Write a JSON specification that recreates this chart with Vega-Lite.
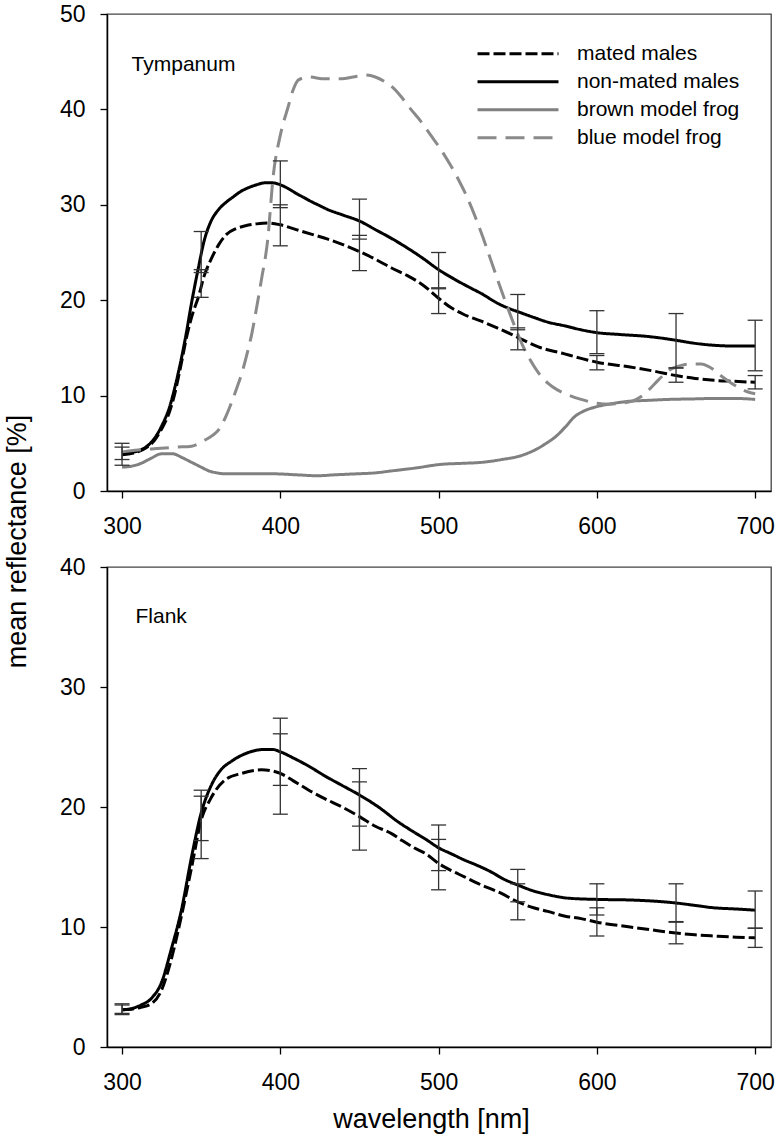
{
  "$schema": "https://vega.github.io/schema/vega-lite/v6.json",
  "padding": {"left": 2, "top": 2, "right": 5, "bottom": 5},
  "config": {
    "font": "Liberation Sans",
    "view": {"stroke": "#444", "strokeWidth": 1.3},
    "axis": {"domainColor": "#000", "domainWidth": 1.5, "tickColor": "#000", "tickWidth": 1.3, "tickSize": 7, "labelFontSize": 23, "labelColor": "#000", "labelFont": "Liberation Sans", "titleFont": "Liberation Sans", "titleFontSize": 27, "titleFontWeight": "normal", "titleColor": "#000", "grid": false, "labelFlush": false},
    "axisX": {"labelPadding": 17},
    "axisY": {"labelPadding": 15},
    "text": {"font": "Liberation Sans"}
  },
  "datasets": {
    "curves": [
      {"panel":"T","series":"non-mated males","wl":300,"r":3.9},
      {"panel":"T","series":"non-mated males","wl":305,"r":4.0},
      {"panel":"T","series":"non-mated males","wl":310,"r":4.2},
      {"panel":"T","series":"non-mated males","wl":315,"r":4.6},
      {"panel":"T","series":"non-mated males","wl":320,"r":5.4},
      {"panel":"T","series":"non-mated males","wl":325,"r":6.8},
      {"panel":"T","series":"non-mated males","wl":330,"r":8.8},
      {"panel":"T","series":"non-mated males","wl":335,"r":12.0},
      {"panel":"T","series":"non-mated males","wl":340,"r":16.0},
      {"panel":"T","series":"non-mated males","wl":344,"r":19.8},
      {"panel":"T","series":"non-mated males","wl":348,"r":23.2},
      {"panel":"T","series":"non-mated males","wl":352,"r":26.3},
      {"panel":"T","series":"non-mated males","wl":356,"r":28.2},
      {"panel":"T","series":"non-mated males","wl":361,"r":29.5},
      {"panel":"T","series":"non-mated males","wl":366,"r":30.3},
      {"panel":"T","series":"non-mated males","wl":370,"r":30.8},
      {"panel":"T","series":"non-mated males","wl":375,"r":31.4},
      {"panel":"T","series":"non-mated males","wl":380,"r":31.8},
      {"panel":"T","series":"non-mated males","wl":385,"r":32.1},
      {"panel":"T","series":"non-mated males","wl":390,"r":32.3},
      {"panel":"T","series":"non-mated males","wl":395,"r":32.3},
      {"panel":"T","series":"non-mated males","wl":400,"r":32.1},
      {"panel":"T","series":"non-mated males","wl":405,"r":31.7},
      {"panel":"T","series":"non-mated males","wl":410,"r":31.2},
      {"panel":"T","series":"non-mated males","wl":415,"r":30.75},
      {"panel":"T","series":"non-mated males","wl":420,"r":30.3},
      {"panel":"T","series":"non-mated males","wl":425,"r":29.9},
      {"panel":"T","series":"non-mated males","wl":430,"r":29.5},
      {"panel":"T","series":"non-mated males","wl":440,"r":28.9},
      {"panel":"T","series":"non-mated males","wl":450,"r":28.3},
      {"panel":"T","series":"non-mated males","wl":460,"r":27.4},
      {"panel":"T","series":"non-mated males","wl":470,"r":26.5},
      {"panel":"T","series":"non-mated males","wl":480,"r":25.5},
      {"panel":"T","series":"non-mated males","wl":490,"r":24.4},
      {"panel":"T","series":"non-mated males","wl":500,"r":23.2},
      {"panel":"T","series":"non-mated males","wl":510,"r":22.2},
      {"panel":"T","series":"non-mated males","wl":520,"r":21.3},
      {"panel":"T","series":"non-mated males","wl":527,"r":20.7},
      {"panel":"T","series":"non-mated males","wl":537,"r":19.7},
      {"panel":"T","series":"non-mated males","wl":545,"r":19.1},
      {"panel":"T","series":"non-mated males","wl":550,"r":18.8},
      {"panel":"T","series":"non-mated males","wl":560,"r":18.2},
      {"panel":"T","series":"non-mated males","wl":569,"r":17.7},
      {"panel":"T","series":"non-mated males","wl":580,"r":17.3},
      {"panel":"T","series":"non-mated males","wl":590,"r":16.9},
      {"panel":"T","series":"non-mated males","wl":600,"r":16.6},
      {"panel":"T","series":"non-mated males","wl":615,"r":16.4},
      {"panel":"T","series":"non-mated males","wl":632,"r":16.2},
      {"panel":"T","series":"non-mated males","wl":642,"r":16.0},
      {"panel":"T","series":"non-mated males","wl":650,"r":15.8},
      {"panel":"T","series":"non-mated males","wl":661,"r":15.5},
      {"panel":"T","series":"non-mated males","wl":672,"r":15.3},
      {"panel":"T","series":"non-mated males","wl":685,"r":15.2},
      {"panel":"T","series":"non-mated males","wl":700,"r":15.2},

      {"panel":"T","series":"mated males","wl":300,"r":3.8},
      {"panel":"T","series":"mated males","wl":305,"r":3.9},
      {"panel":"T","series":"mated males","wl":310,"r":4.1},
      {"panel":"T","series":"mated males","wl":315,"r":4.5},
      {"panel":"T","series":"mated males","wl":320,"r":5.2},
      {"panel":"T","series":"mated males","wl":325,"r":6.5},
      {"panel":"T","series":"mated males","wl":330,"r":8.3},
      {"panel":"T","series":"mated males","wl":333,"r":10.0},
      {"panel":"T","series":"mated males","wl":337,"r":13.0},
      {"panel":"T","series":"mated males","wl":341,"r":16.3},
      {"panel":"T","series":"mated males","wl":345,"r":18.8},
      {"panel":"T","series":"mated males","wl":348,"r":20.2},
      {"panel":"T","series":"mated males","wl":352,"r":22.6},
      {"panel":"T","series":"mated males","wl":356,"r":24.2},
      {"panel":"T","series":"mated males","wl":361,"r":25.8},
      {"panel":"T","series":"mated males","wl":366,"r":26.9},
      {"panel":"T","series":"mated males","wl":372,"r":27.5},
      {"panel":"T","series":"mated males","wl":378,"r":27.8},
      {"panel":"T","series":"mated males","wl":385,"r":28.0},
      {"panel":"T","series":"mated males","wl":392,"r":28.1},
      {"panel":"T","series":"mated males","wl":400,"r":27.9},
      {"panel":"T","series":"mated males","wl":410,"r":27.4},
      {"panel":"T","series":"mated males","wl":420,"r":26.9},
      {"panel":"T","series":"mated males","wl":430,"r":26.4},
      {"panel":"T","series":"mated males","wl":440,"r":25.8},
      {"panel":"T","series":"mated males","wl":450,"r":25.1},
      {"panel":"T","series":"mated males","wl":460,"r":24.3},
      {"panel":"T","series":"mated males","wl":470,"r":23.4},
      {"panel":"T","series":"mated males","wl":480,"r":22.6},
      {"panel":"T","series":"mated males","wl":490,"r":21.6},
      {"panel":"T","series":"mated males","wl":500,"r":20.2},
      {"panel":"T","series":"mated males","wl":508,"r":19.2},
      {"panel":"T","series":"mated males","wl":516,"r":18.5},
      {"panel":"T","series":"mated males","wl":527,"r":17.8},
      {"panel":"T","series":"mated males","wl":537,"r":17.1},
      {"panel":"T","series":"mated males","wl":545,"r":16.5},
      {"panel":"T","series":"mated males","wl":550,"r":16.1},
      {"panel":"T","series":"mated males","wl":563,"r":15.1},
      {"panel":"T","series":"mated males","wl":579,"r":14.4},
      {"panel":"T","series":"mated males","wl":590,"r":13.9},
      {"panel":"T","series":"mated males","wl":600,"r":13.5},
      {"panel":"T","series":"mated males","wl":621,"r":13.0},
      {"panel":"T","series":"mated males","wl":635,"r":12.6},
      {"panel":"T","series":"mated males","wl":650,"r":12.1},
      {"panel":"T","series":"mated males","wl":662,"r":11.8},
      {"panel":"T","series":"mated males","wl":674,"r":11.6},
      {"panel":"T","series":"mated males","wl":686,"r":11.5},
      {"panel":"T","series":"mated males","wl":700,"r":11.4},

      {"panel":"T","series":"brown model frog","wl":300,"r":2.5},
      {"panel":"T","series":"brown model frog","wl":306,"r":2.6},
      {"panel":"T","series":"brown model frog","wl":312,"r":2.9},
      {"panel":"T","series":"brown model frog","wl":318,"r":3.4},
      {"panel":"T","series":"brown model frog","wl":325,"r":3.9},
      {"panel":"T","series":"brown model frog","wl":332,"r":3.9},
      {"panel":"T","series":"brown model frog","wl":338,"r":3.5},
      {"panel":"T","series":"brown model frog","wl":344,"r":3.0},
      {"panel":"T","series":"brown model frog","wl":350,"r":2.5},
      {"panel":"T","series":"brown model frog","wl":355,"r":2.1},
      {"panel":"T","series":"brown model frog","wl":360,"r":1.9},
      {"panel":"T","series":"brown model frog","wl":365,"r":1.8},
      {"panel":"T","series":"brown model frog","wl":380,"r":1.8},
      {"panel":"T","series":"brown model frog","wl":396,"r":1.8},
      {"panel":"T","series":"brown model frog","wl":410,"r":1.7},
      {"panel":"T","series":"brown model frog","wl":423,"r":1.6},
      {"panel":"T","series":"brown model frog","wl":435,"r":1.7},
      {"panel":"T","series":"brown model frog","wl":448,"r":1.8},
      {"panel":"T","series":"brown model frog","wl":460,"r":1.9},
      {"panel":"T","series":"brown model frog","wl":470,"r":2.1},
      {"panel":"T","series":"brown model frog","wl":485,"r":2.4},
      {"panel":"T","series":"brown model frog","wl":502,"r":2.8},
      {"panel":"T","series":"brown model frog","wl":515,"r":2.9},
      {"panel":"T","series":"brown model frog","wl":527,"r":3.0},
      {"panel":"T","series":"brown model frog","wl":540,"r":3.3},
      {"panel":"T","series":"brown model frog","wl":552,"r":3.7},
      {"panel":"T","series":"brown model frog","wl":562,"r":4.4},
      {"panel":"T","series":"brown model frog","wl":568,"r":5.0},
      {"panel":"T","series":"brown model frog","wl":574,"r":5.7},
      {"panel":"T","series":"brown model frog","wl":580,"r":6.7},
      {"panel":"T","series":"brown model frog","wl":586,"r":7.8},
      {"panel":"T","series":"brown model frog","wl":592,"r":8.4},
      {"panel":"T","series":"brown model frog","wl":599,"r":8.8},
      {"panel":"T","series":"brown model frog","wl":611,"r":9.2},
      {"panel":"T","series":"brown model frog","wl":620,"r":9.4},
      {"panel":"T","series":"brown model frog","wl":632,"r":9.5},
      {"panel":"T","series":"brown model frog","wl":645,"r":9.6},
      {"panel":"T","series":"brown model frog","wl":660,"r":9.65},
      {"panel":"T","series":"brown model frog","wl":674,"r":9.7},
      {"panel":"T","series":"brown model frog","wl":688,"r":9.7},
      {"panel":"T","series":"brown model frog","wl":700,"r":9.6},

      {"panel":"T","series":"blue model frog","wl":300,"r":4.1},
      {"panel":"T","series":"blue model frog","wl":310,"r":4.3},
      {"panel":"T","series":"blue model frog","wl":322,"r":4.45},
      {"panel":"T","series":"blue model frog","wl":335,"r":4.6},
      {"panel":"T","series":"blue model frog","wl":344,"r":4.7},
      {"panel":"T","series":"blue model frog","wl":352,"r":5.3},
      {"panel":"T","series":"blue model frog","wl":357,"r":5.8},
      {"panel":"T","series":"blue model frog","wl":361,"r":6.4},
      {"panel":"T","series":"blue model frog","wl":365,"r":7.6},
      {"panel":"T","series":"blue model frog","wl":369,"r":9.2},
      {"panel":"T","series":"blue model frog","wl":372.5,"r":10.8},
      {"panel":"T","series":"blue model frog","wl":375.6,"r":12.3},
      {"panel":"T","series":"blue model frog","wl":379,"r":14.4},
      {"panel":"T","series":"blue model frog","wl":382,"r":16.5},
      {"panel":"T","series":"blue model frog","wl":385,"r":19.2},
      {"panel":"T","series":"blue model frog","wl":388,"r":22.1},
      {"panel":"T","series":"blue model frog","wl":392,"r":26.3},
      {"panel":"T","series":"blue model frog","wl":395.5,"r":33.0},
      {"panel":"T","series":"blue model frog","wl":400,"r":37.3},
      {"panel":"T","series":"blue model frog","wl":405,"r":40.3},
      {"panel":"T","series":"blue model frog","wl":408,"r":42.0},
      {"panel":"T","series":"blue model frog","wl":411.5,"r":43.1},
      {"panel":"T","series":"blue model frog","wl":418,"r":43.4},
      {"panel":"T","series":"blue model frog","wl":428,"r":43.2},
      {"panel":"T","series":"blue model frog","wl":439,"r":43.2},
      {"panel":"T","series":"blue model frog","wl":446,"r":43.4},
      {"panel":"T","series":"blue model frog","wl":454,"r":43.6},
      {"panel":"T","series":"blue model frog","wl":460,"r":43.4},
      {"panel":"T","series":"blue model frog","wl":466,"r":42.9},
      {"panel":"T","series":"blue model frog","wl":471,"r":42.3},
      {"panel":"T","series":"blue model frog","wl":476,"r":41.4},
      {"panel":"T","series":"blue model frog","wl":482,"r":40.1},
      {"panel":"T","series":"blue model frog","wl":489,"r":38.7},
      {"panel":"T","series":"blue model frog","wl":495,"r":37.3},
      {"panel":"T","series":"blue model frog","wl":501,"r":35.9},
      {"panel":"T","series":"blue model frog","wl":507,"r":34.3},
      {"panel":"T","series":"blue model frog","wl":513,"r":32.5},
      {"panel":"T","series":"blue model frog","wl":518,"r":30.8},
      {"panel":"T","series":"blue model frog","wl":523,"r":28.8},
      {"panel":"T","series":"blue model frog","wl":528,"r":26.6},
      {"panel":"T","series":"blue model frog","wl":533,"r":24.2},
      {"panel":"T","series":"blue model frog","wl":538,"r":21.8},
      {"panel":"T","series":"blue model frog","wl":543,"r":19.5},
      {"panel":"T","series":"blue model frog","wl":548,"r":17.3},
      {"panel":"T","series":"blue model frog","wl":553,"r":15.3},
      {"panel":"T","series":"blue model frog","wl":558,"r":13.7},
      {"panel":"T","series":"blue model frog","wl":563,"r":12.4},
      {"panel":"T","series":"blue model frog","wl":569,"r":11.3},
      {"panel":"T","series":"blue model frog","wl":575,"r":10.6},
      {"panel":"T","series":"blue model frog","wl":580,"r":10.2},
      {"panel":"T","series":"blue model frog","wl":590,"r":9.6},
      {"panel":"T","series":"blue model frog","wl":600,"r":9.2},
      {"panel":"T","series":"blue model frog","wl":608,"r":9.1},
      {"panel":"T","series":"blue model frog","wl":615,"r":9.2},
      {"panel":"T","series":"blue model frog","wl":622,"r":9.4},
      {"panel":"T","series":"blue model frog","wl":628,"r":9.9},
      {"panel":"T","series":"blue model frog","wl":634,"r":10.8},
      {"panel":"T","series":"blue model frog","wl":638.6,"r":11.6},
      {"panel":"T","series":"blue model frog","wl":643,"r":12.3},
      {"panel":"T","series":"blue model frog","wl":647,"r":12.8},
      {"panel":"T","series":"blue model frog","wl":652,"r":13.1},
      {"panel":"T","series":"blue model frog","wl":657.5,"r":13.3},
      {"panel":"T","series":"blue model frog","wl":666,"r":13.3},
      {"panel":"T","series":"blue model frog","wl":670,"r":13.1},
      {"panel":"T","series":"blue model frog","wl":674,"r":12.7},
      {"panel":"T","series":"blue model frog","wl":679,"r":12.0},
      {"panel":"T","series":"blue model frog","wl":685,"r":11.3},
      {"panel":"T","series":"blue model frog","wl":690,"r":10.8},
      {"panel":"T","series":"blue model frog","wl":695,"r":10.4},
      {"panel":"T","series":"blue model frog","wl":700,"r":10.2},

      {"panel":"F","series":"non-mated males","wl":300,"r":3.1},
      {"panel":"F","series":"non-mated males","wl":306,"r":3.2},
      {"panel":"F","series":"non-mated males","wl":312,"r":3.5},
      {"panel":"F","series":"non-mated males","wl":318.5,"r":4.05},
      {"panel":"F","series":"non-mated males","wl":325,"r":5.4},
      {"panel":"F","series":"non-mated males","wl":331,"r":8.1},
      {"panel":"F","series":"non-mated males","wl":337.5,"r":11.4},
      {"panel":"F","series":"non-mated males","wl":344,"r":15.9},
      {"panel":"F","series":"non-mated males","wl":350,"r":19.5},
      {"panel":"F","series":"non-mated males","wl":356,"r":21.7},
      {"panel":"F","series":"non-mated males","wl":362.5,"r":23.1},
      {"panel":"F","series":"non-mated males","wl":369,"r":23.8},
      {"panel":"F","series":"non-mated males","wl":379,"r":24.5},
      {"panel":"F","series":"non-mated males","wl":390,"r":24.8},
      {"panel":"F","series":"non-mated males","wl":395,"r":24.8},
      {"panel":"F","series":"non-mated males","wl":400,"r":24.6},
      {"panel":"F","series":"non-mated males","wl":408,"r":24.1},
      {"panel":"F","series":"non-mated males","wl":418,"r":23.4},
      {"panel":"F","series":"non-mated males","wl":428,"r":22.6},
      {"panel":"F","series":"non-mated males","wl":439,"r":21.8},
      {"panel":"F","series":"non-mated males","wl":450,"r":21.0},
      {"panel":"F","series":"non-mated males","wl":462,"r":20.0},
      {"panel":"F","series":"non-mated males","wl":474,"r":18.8},
      {"panel":"F","series":"non-mated males","wl":484.5,"r":17.9},
      {"panel":"F","series":"non-mated males","wl":492,"r":17.3},
      {"panel":"F","series":"non-mated males","wl":500,"r":16.6},
      {"panel":"F","series":"non-mated males","wl":508,"r":16.1},
      {"panel":"F","series":"non-mated males","wl":516,"r":15.6},
      {"panel":"F","series":"non-mated males","wl":525,"r":15.1},
      {"panel":"F","series":"non-mated males","wl":533,"r":14.6},
      {"panel":"F","series":"non-mated males","wl":541,"r":14.0},
      {"panel":"F","series":"non-mated males","wl":550,"r":13.5},
      {"panel":"F","series":"non-mated males","wl":560,"r":13.0},
      {"panel":"F","series":"non-mated males","wl":569,"r":12.7},
      {"panel":"F","series":"non-mated males","wl":582,"r":12.4},
      {"panel":"F","series":"non-mated males","wl":600,"r":12.3},
      {"panel":"F","series":"non-mated males","wl":621,"r":12.25},
      {"panel":"F","series":"non-mated males","wl":642,"r":12.1},
      {"panel":"F","series":"non-mated males","wl":650,"r":12.0},
      {"panel":"F","series":"non-mated males","wl":662,"r":11.8},
      {"panel":"F","series":"non-mated males","wl":674,"r":11.6},
      {"panel":"F","series":"non-mated males","wl":688,"r":11.5},
      {"panel":"F","series":"non-mated males","wl":700,"r":11.4},

      {"panel":"F","series":"mated males","wl":300,"r":3.1},
      {"panel":"F","series":"mated males","wl":306,"r":3.15},
      {"panel":"F","series":"mated males","wl":312,"r":3.3},
      {"panel":"F","series":"mated males","wl":318.5,"r":3.6},
      {"panel":"F","series":"mated males","wl":325,"r":4.75},
      {"panel":"F","series":"mated males","wl":331,"r":7.25},
      {"panel":"F","series":"mated males","wl":337.5,"r":10.9},
      {"panel":"F","series":"mated males","wl":344,"r":15.0},
      {"panel":"F","series":"mated males","wl":350,"r":18.9},
      {"panel":"F","series":"mated males","wl":356,"r":20.7},
      {"panel":"F","series":"mated males","wl":365,"r":22.25},
      {"panel":"F","series":"mated males","wl":375.6,"r":22.8},
      {"panel":"F","series":"mated males","wl":388,"r":23.1},
      {"panel":"F","series":"mated males","wl":395,"r":23.0},
      {"panel":"F","series":"mated males","wl":400,"r":22.8},
      {"panel":"F","series":"mated males","wl":408,"r":22.2},
      {"panel":"F","series":"mated males","wl":418,"r":21.4},
      {"panel":"F","series":"mated males","wl":428,"r":20.7},
      {"panel":"F","series":"mated males","wl":439,"r":20.0},
      {"panel":"F","series":"mated males","wl":450,"r":19.2},
      {"panel":"F","series":"mated males","wl":460,"r":18.4},
      {"panel":"F","series":"mated males","wl":470,"r":17.8},
      {"panel":"F","series":"mated males","wl":477,"r":17.2},
      {"panel":"F","series":"mated males","wl":484.5,"r":16.6},
      {"panel":"F","series":"mated males","wl":492,"r":16.1},
      {"panel":"F","series":"mated males","wl":500,"r":15.3},
      {"panel":"F","series":"mated males","wl":508,"r":14.7},
      {"panel":"F","series":"mated males","wl":516,"r":14.2},
      {"panel":"F","series":"mated males","wl":527,"r":13.5},
      {"panel":"F","series":"mated males","wl":538,"r":12.9},
      {"panel":"F","series":"mated males","wl":550,"r":12.1},
      {"panel":"F","series":"mated males","wl":560,"r":11.6},
      {"panel":"F","series":"mated males","wl":569,"r":11.3},
      {"panel":"F","series":"mated males","wl":580,"r":10.9},
      {"panel":"F","series":"mated males","wl":590,"r":10.7},
      {"panel":"F","series":"mated males","wl":600,"r":10.4},
      {"panel":"F","series":"mated males","wl":621,"r":10.0},
      {"panel":"F","series":"mated males","wl":635,"r":9.75},
      {"panel":"F","series":"mated males","wl":650,"r":9.5},
      {"panel":"F","series":"mated males","wl":662,"r":9.35},
      {"panel":"F","series":"mated males","wl":674,"r":9.25},
      {"panel":"F","series":"mated males","wl":688,"r":9.15},
      {"panel":"F","series":"mated males","wl":700,"r":9.1}
    ],
    "errs": [
      {"panel":"T","series":"non-mated males","wl":300,"lo":3.3,"hi":4.6},
      {"panel":"T","series":"non-mated males","wl":350,"lo":22.9,"hi":27.2},
      {"panel":"T","series":"non-mated males","wl":400,"lo":29.7,"hi":34.6},
      {"panel":"T","series":"non-mated males","wl":450,"lo":26.4,"hi":30.6},
      {"panel":"T","series":"non-mated males","wl":500,"lo":21.3,"hi":25.0},
      {"panel":"T","series":"non-mated males","wl":550,"lo":16.9,"hi":20.6},
      {"panel":"T","series":"non-mated males","wl":600,"lo":14.4,"hi":18.9},
      {"panel":"T","series":"non-mated males","wl":650,"lo":12.9,"hi":18.6},
      {"panel":"T","series":"non-mated males","wl":700,"lo":12.6,"hi":17.9},
      {"panel":"T","series":"mated males","wl":300,"lo":2.7,"hi":5.0},
      {"panel":"T","series":"mated males","wl":350,"lo":20.3,"hi":23.2},
      {"panel":"T","series":"mated males","wl":400,"lo":25.7,"hi":30.0},
      {"panel":"T","series":"mated males","wl":450,"lo":23.1,"hi":26.8},
      {"panel":"T","series":"mated males","wl":500,"lo":18.6,"hi":21.2},
      {"panel":"T","series":"mated males","wl":550,"lo":14.8,"hi":17.1},
      {"panel":"T","series":"mated males","wl":600,"lo":12.7,"hi":14.2},
      {"panel":"T","series":"mated males","wl":650,"lo":11.4,"hi":12.9},
      {"panel":"T","series":"mated males","wl":700,"lo":10.7,"hi":12.1},
      {"panel":"F","series":"non-mated males","wl":300,"lo":2.8,"hi":3.5},
      {"panel":"F","series":"non-mated males","wl":350,"lo":17.2,"hi":21.4},
      {"panel":"F","series":"non-mated males","wl":400,"lo":21.8,"hi":27.4},
      {"panel":"F","series":"non-mated males","wl":450,"lo":18.4,"hi":23.2},
      {"panel":"F","series":"non-mated males","wl":500,"lo":14.7,"hi":18.5},
      {"panel":"F","series":"non-mated males","wl":550,"lo":12.1,"hi":14.8},
      {"panel":"F","series":"non-mated males","wl":600,"lo":11.0,"hi":13.6},
      {"panel":"F","series":"non-mated males","wl":650,"lo":10.45,"hi":13.6},
      {"panel":"F","series":"non-mated males","wl":700,"lo":9.9,"hi":13.0},
      {"panel":"F","series":"mated males","wl":300,"lo":2.7,"hi":3.6},
      {"panel":"F","series":"mated males","wl":350,"lo":15.7,"hi":20.9},
      {"panel":"F","series":"mated males","wl":400,"lo":19.4,"hi":26.1},
      {"panel":"F","series":"mated males","wl":450,"lo":16.4,"hi":22.1},
      {"panel":"F","series":"mated males","wl":500,"lo":13.1,"hi":17.3},
      {"panel":"F","series":"mated males","wl":550,"lo":10.6,"hi":13.6},
      {"panel":"F","series":"mated males","wl":600,"lo":9.25,"hi":11.6},
      {"panel":"F","series":"mated males","wl":650,"lo":8.6,"hi":10.4},
      {"panel":"F","series":"mated males","wl":700,"lo":8.3,"hi":9.9}
    ],
    "notes": [
      {"panel":"T","label":"Tympanum","wl":306,"r":44.0},
      {"panel":"F","label":"Flank","wl":308.5,"r":35.3}
    ]
  },
  "spacing": 76,
  "bounds": "flush",
  "resolve": {"legend": {"color": "independent", "strokeDash": "independent", "strokeWidth": "independent"}},
  "vconcat": [
    {
      "width": 664,
      "height": 477,
      "layer": [
        {
          "data": {"name": "curves"},
          "transform": [{"filter": "datum.panel === 'T'"}],
          "mark": {"type": "line", "interpolate": "monotone"},
          "encoding": {
            "x": {"field": "wl", "type": "quantitative", "scale": {"domain": [290.5, 710], "nice": false}, "axis": {"values": [300, 400, 500, 600, 700], "title": null}},
            "y": {"field": "r", "type": "quantitative", "scale": {"domain": [0, 50], "nice": false}, "axis": {"values": [0, 10, 20, 30, 40, 50], "title": "mean reflectance [%]", "titleX": -82, "titleY": 527, "titleBaseline": "alphabetic", "titleAngle": 270}},
            "color": {"field": "series", "type": "nominal", "scale": {"domain": ["mated males", "non-mated males", "brown model frog", "blue model frog"], "range": ["#000000", "#000000", "#808080", "#8a8a8a"]},
              "legend": {"title": null, "orient": "none", "legendX": 369, "legendY": 26, "symbolType": "stroke", "symbolSize": 6561, "clipHeight": 27.7, "rowPadding": 0, "padding": 0, "labelFontSize": 21, "labelOffset": 17, "labelFont": "Liberation Sans", "labelColor": "#000", "labelLimit": 400}},
            "strokeDash": {"field": "series", "type": "nominal", "scale": {"domain": ["mated males", "non-mated males", "brown model frog", "blue model frog"], "range": [[12, 4], [1, 0], [1, 0], [19, 9]]},
              "legend": {"title": null, "orient": "none", "legendX": 369, "legendY": 26, "symbolType": "stroke", "symbolSize": 6561, "clipHeight": 27.7, "rowPadding": 0, "padding": 0, "labelFontSize": 21, "labelOffset": 17, "labelFont": "Liberation Sans", "labelColor": "#000", "labelLimit": 400}},
            "strokeWidth": {"field": "series", "type": "nominal", "scale": {"domain": ["mated males", "non-mated males", "brown model frog", "blue model frog"], "range": [3, 3, 2.5, 2.5]},
              "legend": {"title": null, "orient": "none", "legendX": 369, "legendY": 26, "symbolType": "stroke", "symbolSize": 6561, "clipHeight": 27.7, "rowPadding": 0, "padding": 0, "labelFontSize": 21, "labelOffset": 17, "labelFont": "Liberation Sans", "labelColor": "#000", "labelLimit": 400}}
          }
        },
        {
          "data": {"name": "errs"},
          "transform": [{"filter": "datum.panel === 'T'"}],
          "mark": {"type": "rule", "color": "#333", "strokeWidth": 1.3},
          "encoding": {"x": {"field": "wl", "type": "quantitative"}, "y": {"field": "lo", "type": "quantitative"}, "y2": {"field": "hi"}}
        },
        {
          "data": {"name": "errs"},
          "transform": [{"filter": "datum.panel === 'T'"}],
          "mark": {"type": "tick", "orient": "horizontal", "size": 15, "thickness": 1.3, "color": "#333", "opacity": 1},
          "encoding": {"x": {"field": "wl", "type": "quantitative"}, "y": {"field": "lo", "type": "quantitative"}}
        },
        {
          "data": {"name": "errs"},
          "transform": [{"filter": "datum.panel === 'T'"}],
          "mark": {"type": "tick", "orient": "horizontal", "size": 15, "thickness": 1.3, "color": "#333", "opacity": 1},
          "encoding": {"x": {"field": "wl", "type": "quantitative"}, "y": {"field": "hi", "type": "quantitative"}}
        },
        {
          "data": {"name": "notes"},
          "transform": [{"filter": "datum.panel === 'T'"}],
          "mark": {"type": "text", "align": "left", "baseline": "alphabetic", "fontSize": 21, "color": "#000"},
          "encoding": {"x": {"field": "wl", "type": "quantitative"}, "y": {"field": "r", "type": "quantitative"}, "text": {"field": "label"}}
        }
      ]
    },
    {
      "width": 664,
      "height": 480,
      "layer": [
        {
          "data": {"name": "curves"},
          "transform": [{"filter": "datum.panel === 'F'"}],
          "mark": {"type": "line", "interpolate": "monotone"},
          "encoding": {
            "x": {"field": "wl", "type": "quantitative", "scale": {"domain": [290.5, 710], "nice": false}, "axis": {"values": [300, 400, 500, 600, 700], "title": "wavelength [nm]", "titleX": 324, "titleY": 80, "titleBaseline": "alphabetic"}},
            "y": {"field": "r", "type": "quantitative", "scale": {"domain": [0, 40], "nice": false}, "axis": {"values": [0, 10, 20, 30, 40], "title": null}},
            "color": {"field": "series", "type": "nominal", "scale": {"domain": ["mated males", "non-mated males", "brown model frog", "blue model frog"], "range": ["#000000", "#000000", "#808080", "#8a8a8a"]}, "legend": null},
            "strokeDash": {"field": "series", "type": "nominal", "scale": {"domain": ["mated males", "non-mated males", "brown model frog", "blue model frog"], "range": [[12, 4], [1, 0], [1, 0], [19, 9]]}, "legend": null},
            "strokeWidth": {"field": "series", "type": "nominal", "scale": {"domain": ["mated males", "non-mated males", "brown model frog", "blue model frog"], "range": [3, 3, 2.5, 2.5]}, "legend": null}
          }
        },
        {
          "data": {"name": "errs"},
          "transform": [{"filter": "datum.panel === 'F'"}],
          "mark": {"type": "rule", "color": "#333", "strokeWidth": 1.3},
          "encoding": {"x": {"field": "wl", "type": "quantitative"}, "y": {"field": "lo", "type": "quantitative"}, "y2": {"field": "hi"}}
        },
        {
          "data": {"name": "errs"},
          "transform": [{"filter": "datum.panel === 'F'"}],
          "mark": {"type": "tick", "orient": "horizontal", "size": 15, "thickness": 1.3, "color": "#333", "opacity": 1},
          "encoding": {"x": {"field": "wl", "type": "quantitative"}, "y": {"field": "lo", "type": "quantitative"}}
        },
        {
          "data": {"name": "errs"},
          "transform": [{"filter": "datum.panel === 'F'"}],
          "mark": {"type": "tick", "orient": "horizontal", "size": 15, "thickness": 1.3, "color": "#333", "opacity": 1},
          "encoding": {"x": {"field": "wl", "type": "quantitative"}, "y": {"field": "hi", "type": "quantitative"}}
        },
        {
          "data": {"name": "notes"},
          "transform": [{"filter": "datum.panel === 'F'"}],
          "mark": {"type": "text", "align": "left", "baseline": "alphabetic", "fontSize": 21, "color": "#000"},
          "encoding": {"x": {"field": "wl", "type": "quantitative"}, "y": {"field": "r", "type": "quantitative"}, "text": {"field": "label"}}
        }
      ]
    }
  ]
}
